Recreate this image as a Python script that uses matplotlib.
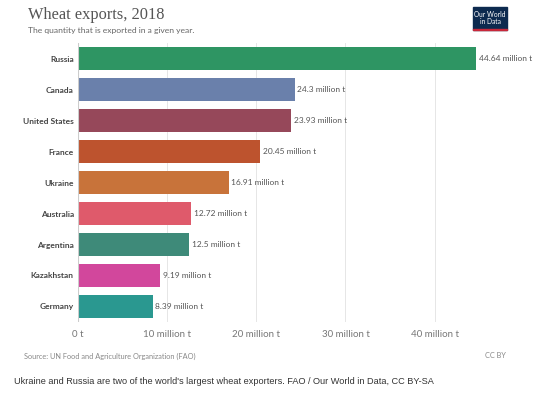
import matplotlib.pyplot as plt
from matplotlib.patches import Rectangle

# wheat exports 2018, million tonnes
countries = ['Russia', 'Canada', 'United States', 'France', 'Ukraine',
             'Australia', 'Argentina', 'Kazakhstan', 'Germany']
exports = [44.64, 24.3, 23.93, 20.45, 16.91, 12.72, 12.5, 9.19, 8.39]
value_labels = ['44.64 million t', '24.3 million t', '23.93 million t', '20.45 million t',
                '16.91 million t', '12.72 million t', '12.5 million t', '9.19 million t',
                '8.39 million t']
bar_colors = ['#2e9563', '#6a80ab', '#96485a', '#bd532e', '#c8733a',
              '#df5a6b', '#3e8a79', '#d2479c', '#2a9890']
ticks = [0, 10, 20, 30, 40]
tick_labels = ['0 t', '10 million t', '20 million t', '30 million t', '40 million t']

fig = plt.figure(figsize=(5.5, 3.96), dpi=100)
ax = fig.add_axes([0.1418, 0.187, 0.7236, 0.704])

ypos = range(len(countries))
ax.barh(ypos, exports, height=0.75, color=bar_colors, zorder=3)
for y, v, lab in zip(ypos, exports, value_labels):
    ax.text(v + 0.3, y, lab, va='center', ha='left', fontsize=6.0,
            family='Lato', color='#555555')

ax.set_ylim(len(countries) - 0.5, -0.5)
ax.set_xlim(0, 44.64)
ax.set_yticks(list(ypos))
ax.set_yticklabels(countries, fontsize=6, family='Lato', fontweight='bold', color='#444444')
ax.set_xticks(ticks)
ax.set_xticklabels(tick_labels, fontsize=7, family='Lato', color='#777777')
ax.tick_params(length=0, axis='both')
ax.tick_params(axis='x', pad=6)
ax.tick_params(axis='y', pad=3)
ax.grid(axis='x', color='#e6e6e6', linewidth=0.7, zorder=0)
for s in ax.spines.values():
    s.set_visible(False)
ax.axvline(0, color='#cccccc', linewidth=0.8, zorder=4)

# header
fig.text(28 / 550, 1 - 15 / 396, 'Wheat exports, 2018', fontsize=11.8,
         family='Liberation Serif', color='#555555', va='center')
fig.text(28 / 550, 1 - 31 / 396, 'The quantity that is exported in a given year.',
         fontsize=6.1, family='Lato', color='#666666', va='center')

# logo
fig.patches.append(Rectangle((473 / 550, 1 - 30 / 396), 34 / 550, 23 / 396,
                             transform=fig.transFigure, color='#0d2a4f'))
fig.patches.append(Rectangle((473 / 550, 1 - 30 / 396), 34 / 550, 1.5 / 396,
                             transform=fig.transFigure, color='#c8283a'))
fig.text(490 / 550, 1 - 18 / 396, 'Our World\nin Data', fontsize=4.8, family='Lato',
         color='white', ha='center', va='center', linespacing=1.0)

# footer
fig.text(24 / 550, 1 - 356 / 396, 'Source: UN Food and Agriculture Organization (FAO)',
         fontsize=5.3, family='Lato', color='#888888', va='center')
fig.text(506 / 550, 1 - 356 / 396, 'CC BY', fontsize=5.3, family='Lato',
         color='#888888', va='center', ha='right')
fig.text(14 / 550, 1 - 382 / 396,
         "Ukraine and Russia are two of the world's largest wheat exporters. FAO / Our World in Data, CC BY-SA",
         fontsize=6.6, family='Liberation Sans', color='#333333', va='center')

fig.savefig('out.png', dpi=100)
